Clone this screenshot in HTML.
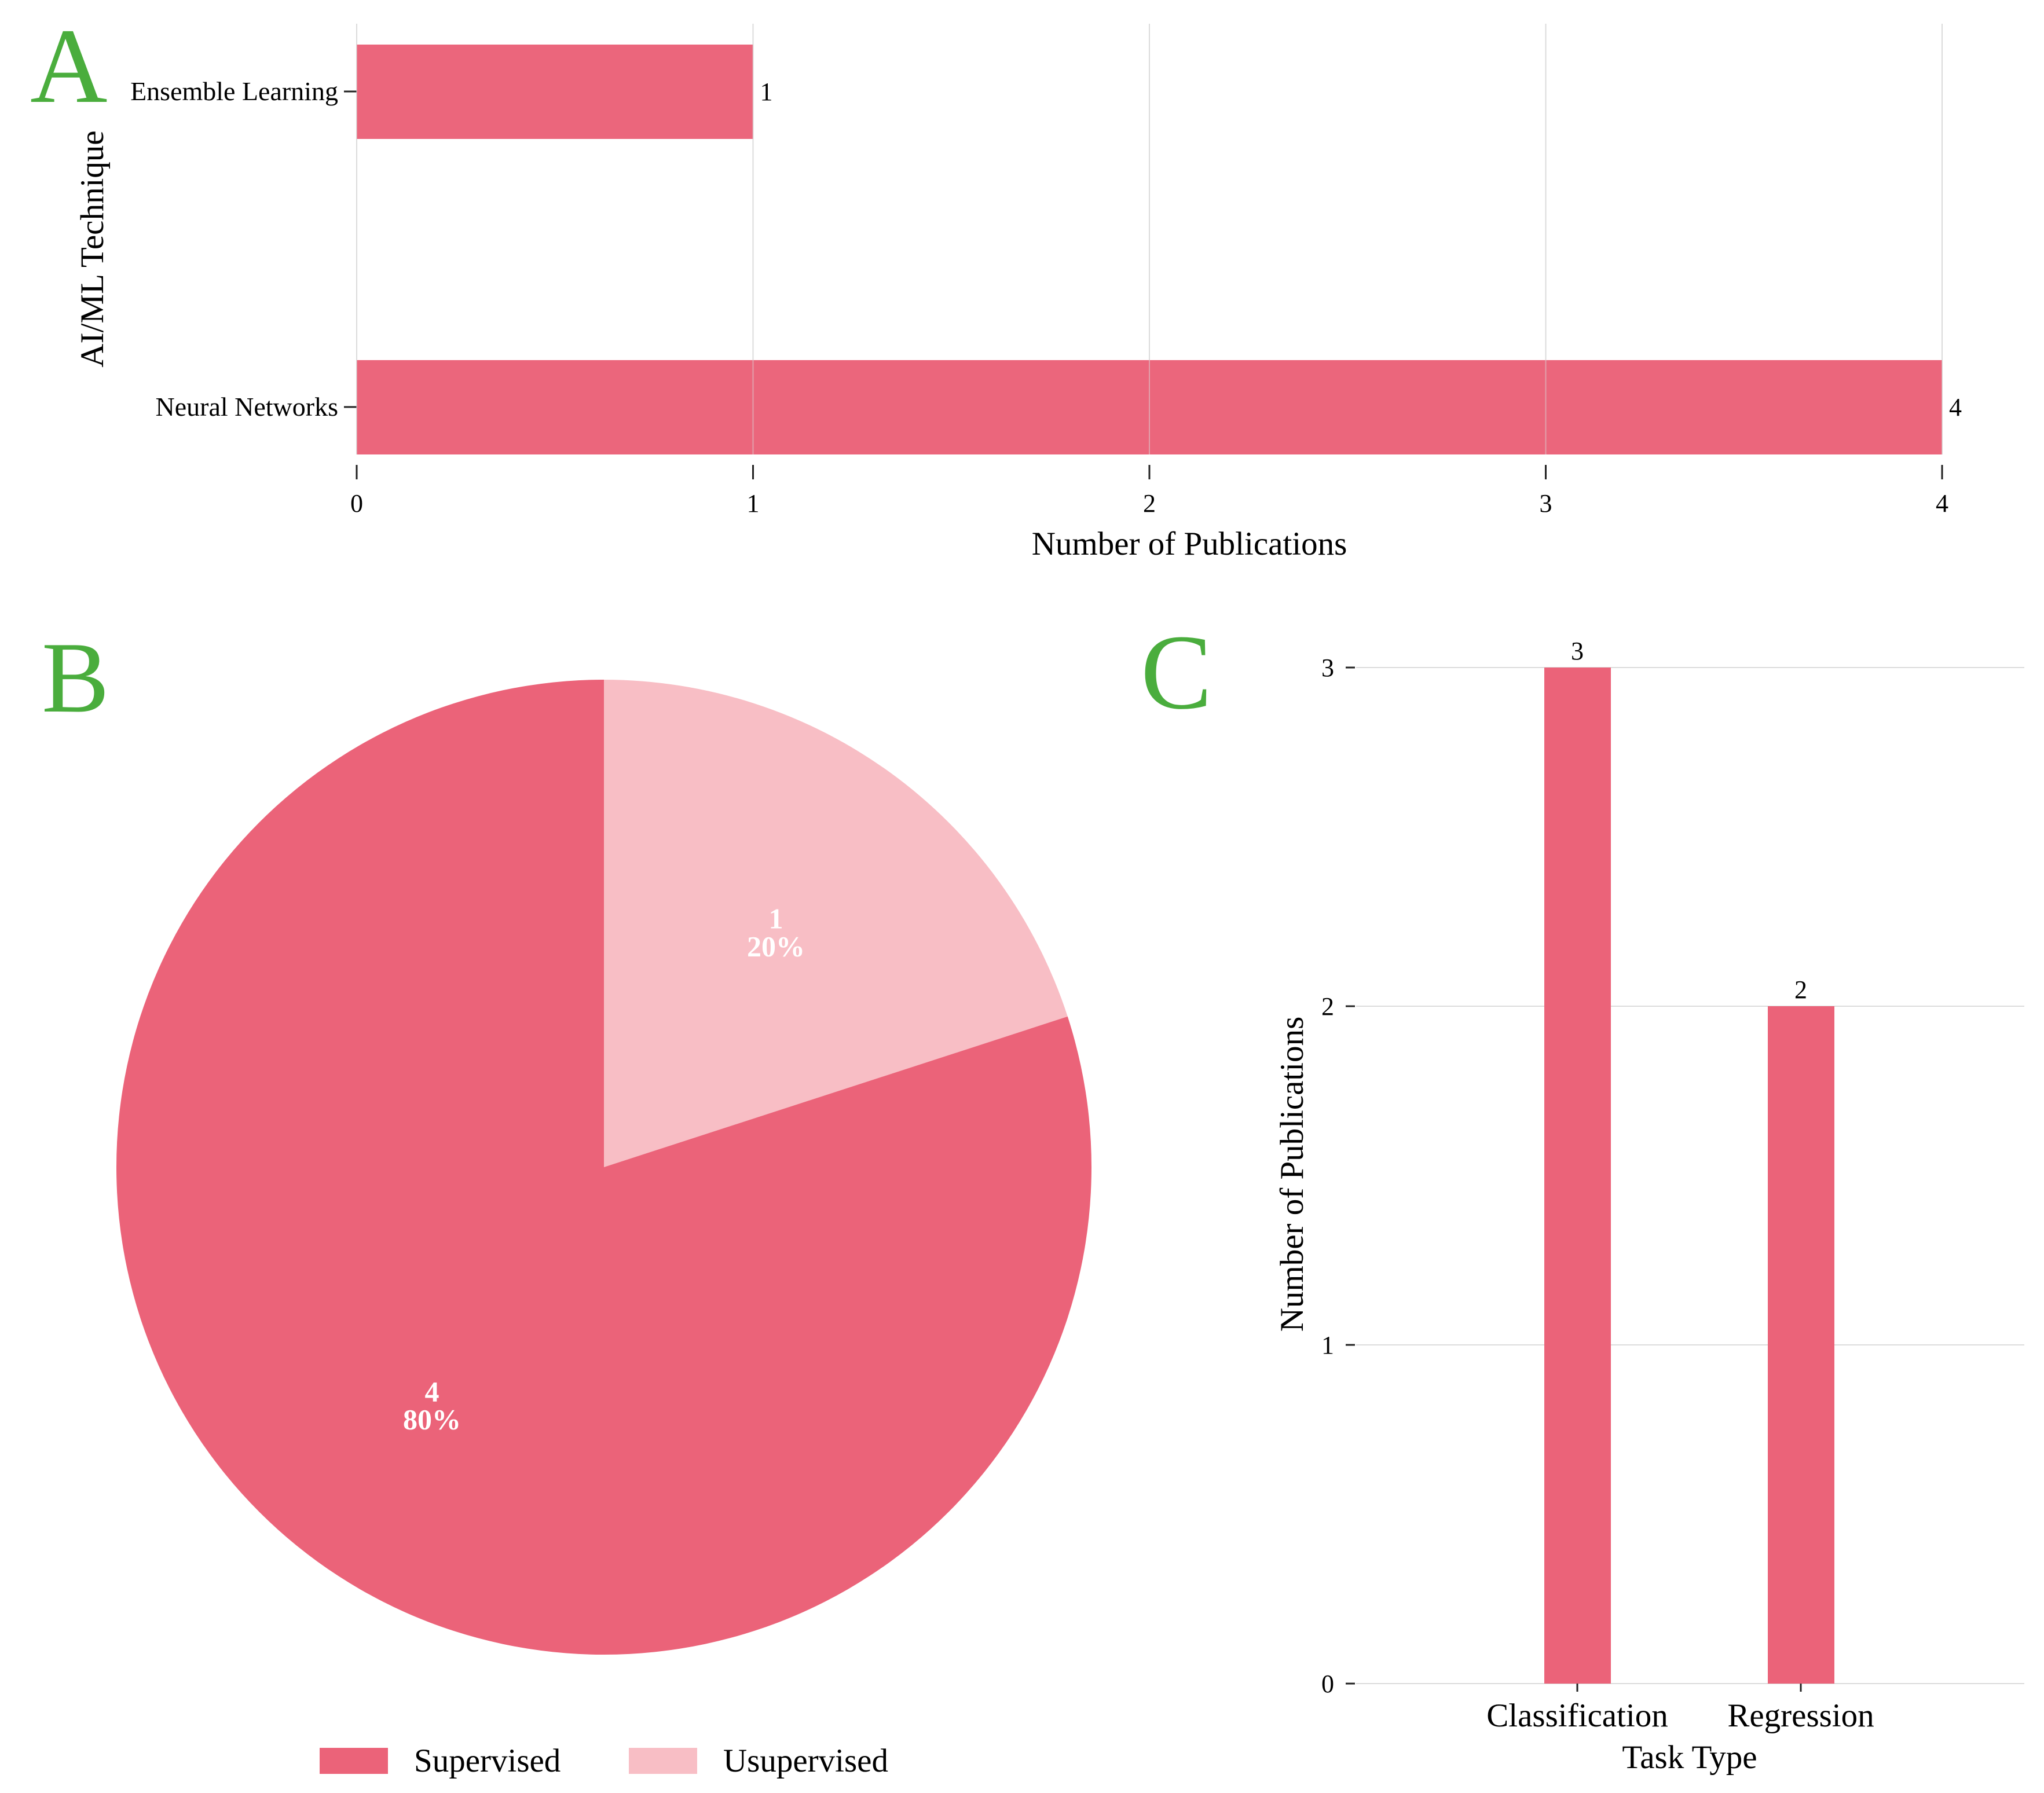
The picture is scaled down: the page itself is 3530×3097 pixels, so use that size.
<!DOCTYPE html>
<html><head><meta charset="utf-8"><style>
html,body{margin:0;padding:0;background:#fff}
svg{display:block;font-family:"Liberation Serif",serif}
</style></head><body>
<svg id="fig" width="3530" height="3097" viewBox="0 0 3530 3097">
<g id="pa"></g>
<g id="pb"></g>
<g id="pc"></g>
</svg>
<script>
const aCats = ["Ensemble Learning", "Neural Networks"];
const aVals = [1, 4];
const aTicks = [0, 1, 2, 3, 4];
const bLabels = ["Supervised", "Usupervised"];
const bVals = [4, 1];
const cCats = ["Classification", "Regression"];
const cVals = [3, 2];
const cTicks = [0, 1, 2, 3];

const NS = "http://www.w3.org/2000/svg";
const PINK = "#eb6379", LIGHT = "#f8bec5", GREEN = "#4aad3d";
function mk(parent, tag, attrs, text) {
  const e = document.createElementNS(NS, tag);
  for (const k in attrs) e.setAttribute(k, attrs[k]);
  if (text !== undefined) e.textContent = text;
  parent.appendChild(e);
  return e;
}
const pa = document.getElementById("pa"), pb = document.getElementById("pb"), pc = document.getElementById("pc");

// ---- Panel A ----
const ax = v => 616 + v * (3354 - 616) / 4;
const aBand = [158, 703];
const aY = i => aBand[i];
let el;
aTicks.forEach(t => {
  el = mk(pa, "line", {x1: ax(t), x2: ax(t), y1: 41, y2: 785, stroke: "#dcdcdc", "stroke-width": 2});
  
  
});
aVals.forEach((v, i) => {
  el = mk(pa, "rect", {x: ax(0), y: aY(i) - 81, width: ax(v) - ax(0), height: 163, fill: PINK, "fill-opacity": 0.98});
  
  
  el = mk(pa, "text", {x: ax(v) + 12, y: aY(i) + 15, "font-size": 44}, String(v));
  
  
  el = mk(pa, "line", {x1: 594, x2: 616, y1: aY(i), y2: aY(i), stroke: "#222", "stroke-width": 3});
  
  
  el = mk(pa, "text", {x: 584, y: aY(i) + 15, "font-size": 46, "text-anchor": "end"}, aCats[i]);
  
  
});
aTicks.forEach(t => {
  el = mk(pa, "line", {x1: ax(t), x2: ax(t), y1: 41, y2: 785, stroke: "#d9d9d9", "stroke-width": 2, "stroke-opacity": 0.5});
  
  
  el = mk(pa, "line", {x1: ax(t), x2: ax(t), y1: 803, y2: 828, stroke: "#222", "stroke-width": 3});
  
  
  el = mk(pa, "text", {x: ax(t), y: 884, "font-size": 44, "text-anchor": "middle"}, String(t));
  
  
});
el = mk(pa, "text", {x: 2054, y: 958, "font-size": 57, "text-anchor": "middle"}, "Number of Publications");


el = mk(pa, "text", {x: 178, y: 430, "font-size": 57, "text-anchor": "middle", transform: "rotate(-90 178 430)"}, "AI/ML Technique");


el = mk(pa, "text", {x: 52, y: 176, "font-size": 185, fill: GREEN}, "A");



// ---- Panel B ----
const cx = 1043, cy = 2016, R = 842;
const total = bVals.reduce((a, b) => a + b, 0);
const order = [1, 0];
let ang = -90;
order.forEach(i => {
  const sweep = bVals[i] / total * 360;
  const a0 = ang * Math.PI / 180, a1 = (ang + sweep) * Math.PI / 180;
  const large = sweep > 180 ? 1 : 0;
  const d = `M${cx},${cy} L${cx + R * Math.cos(a0)},${cy + R * Math.sin(a0)} A${R},${R} 0 ${large} 1 ${cx + R * Math.cos(a1)},${cy + R * Math.sin(a1)} Z`;
  el = mk(pb, "path", {d: d, fill: i === 0 ? PINK : LIGHT});
  
  
  const mid = (ang + sweep / 2) * Math.PI / 180;
  const lx = cx + R * 0.6 * Math.cos(mid), ly = cy + R * 0.6 * Math.sin(mid);
  el = mk(pb, "text", {x: lx, y: ly - 4, "font-size": 50, "font-weight": "bold", fill: "#fff", "text-anchor": "middle"}, String(bVals[i]));
  
  
  el = mk(pb, "text", {x: lx, y: ly + 44, "font-size": 50, "font-weight": "bold", fill: "#fff", "text-anchor": "middle"}, Math.round(bVals[i] / total * 100) + "%");
  
  
  ang += sweep;
});
const legX = [552, 1086];
bLabels.forEach((l, i) => {
  el = mk(pb, "rect", {x: legX[i], y: 3019, width: 118, height: 45, fill: i === 0 ? PINK : LIGHT});
  
  
  el = mk(pb, "text", {x: legX[i] + 163, y: 3060, "font-size": 57}, l);
  
  
});
el = mk(pb, "text", {x: 72, y: 1229, "font-size": 175, fill: GREEN}, "B");



// ---- Panel C ----
const cyS = v => 2908 - v * (2908 - 1153) / 3;
const cCenters = [2724, 3110];
cTicks.forEach(t => {
  el = mk(pc, "line", {x1: 2342, x2: 3496, y1: cyS(t), y2: cyS(t), stroke: "#dcdcdc", "stroke-width": 2});
  
  
});
cVals.forEach((v, i) => {
  el = mk(pc, "rect", {x: cCenters[i] - 57, y: cyS(v), width: 115, height: cyS(0) - cyS(v), fill: PINK});
  
  
  el = mk(pc, "text", {x: cCenters[i], y: cyS(v) - 14, "font-size": 44, "text-anchor": "middle"}, String(v));
  
  
  el = mk(pc, "line", {x1: cCenters[i], x2: cCenters[i], y1: 2908, y2: 2922, stroke: "#222", "stroke-width": 3});
  
  
  el = mk(pc, "text", {x: cCenters[i], y: 2982, "font-size": 57, "text-anchor": "middle"}, cCats[i]);
  
  
});
cTicks.forEach(t => {
  el = mk(pc, "line", {x1: 2324, x2: 2340, y1: cyS(t), y2: cyS(t), stroke: "#222", "stroke-width": 3});
  
  
  el = mk(pc, "text", {x: 2304, y: cyS(t) + 15, "font-size": 44, "text-anchor": "end"}, String(t));
  
  
});
el = mk(pc, "text", {x: 2918, y: 3054, "font-size": 57, "text-anchor": "middle"}, "Task Type");


el = mk(pc, "text", {x: 2250, y: 2028, "font-size": 57, "text-anchor": "middle", transform: "rotate(-90 2250 2028)"}, "Number of Publications");


el = mk(pc, "text", {x: 1970, y: 1223, "font-size": 185, fill: GREEN}, "C");


</script>
</body></html>
